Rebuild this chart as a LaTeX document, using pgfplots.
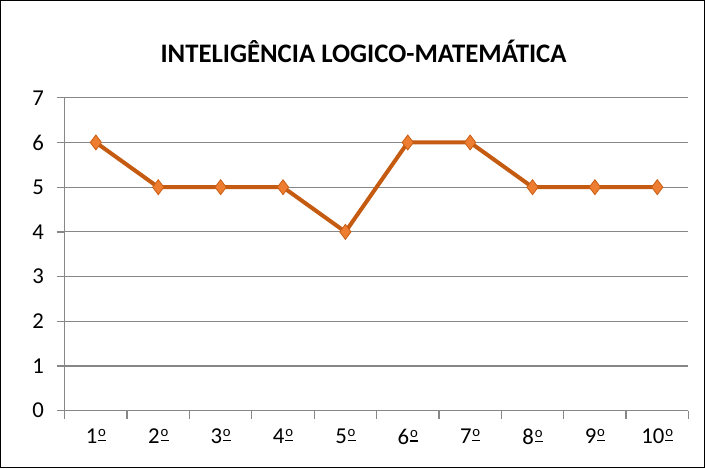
\documentclass[border=0pt]{standalone}
\usepackage{pgfplots}
\pgfplotsset{compat=1.18}
\usepackage{fontspec}
\setmainfont{Carlito}
\definecolor{linec}{HTML}{C55A11}
\definecolor{markc}{HTML}{ED7D31}
\definecolor{gridc}{HTML}{878787}
% ordinal sign with underline, as in Calibri
\newcommand{\ord}{\kern0.6pt\rlap{\rule[1.9pt]{6pt}{0.8pt}}\raisebox{5.2pt}{\fontsize{11}{11}\selectfont o}}
\begin{document}
\begin{tikzpicture}
\begin{axis}[
    scale only axis,
    width=466.5pt,
    height=234pt,
    xmin=0, xmax=10,
    ymin=0, ymax=7,
    axis line style={gridc, line width=1.1pt},
    axis x line*=bottom,
    axis y line*=left,
    xtick={0,...,10},
    x tick label as interval,
    xticklabels={1\ord,2\ord,3\ord,4\ord,5\ord,6\ord,7\ord,8\ord,9\ord,10\ord},
    ytick={0,...,7},
    ymajorgrids,
    grid style={gridc, line width=0.8pt},
    tick align=outside,
    major tick length=6pt,
    tick style={gridc, line width=1pt},
    ticklabel style={font=\fontsize{17}{20}\selectfont},
    xticklabel style={yshift=-4pt},
    yticklabel style={xshift=-6pt},
    /pgf/number format/assume math mode=true,
    clip=false,
]
\addplot[linec, line width=3pt, mark=diamond*, mark size=5.6pt,
    mark options={fill=markc, draw=linec!90!markc, line width=0.6pt}]
coordinates {
    (0.5,6) (1.5,5) (2.5,5) (3.5,5) (4.5,4)
    (5.5,6) (6.5,6) (7.5,5) (8.5,5) (9.5,5)
};
\end{axis}
\draw[black, line width=0.75pt] (-48pt,-42.75pt) rectangle (478.5pt,306.75pt);
\node[font=\fontsize{20}{24}\selectfont\bfseries] at (223.5pt,268.5pt) {INTELIGÊNCIA LOGICO-MATEMÁTICA};
\end{tikzpicture}
\end{document}
